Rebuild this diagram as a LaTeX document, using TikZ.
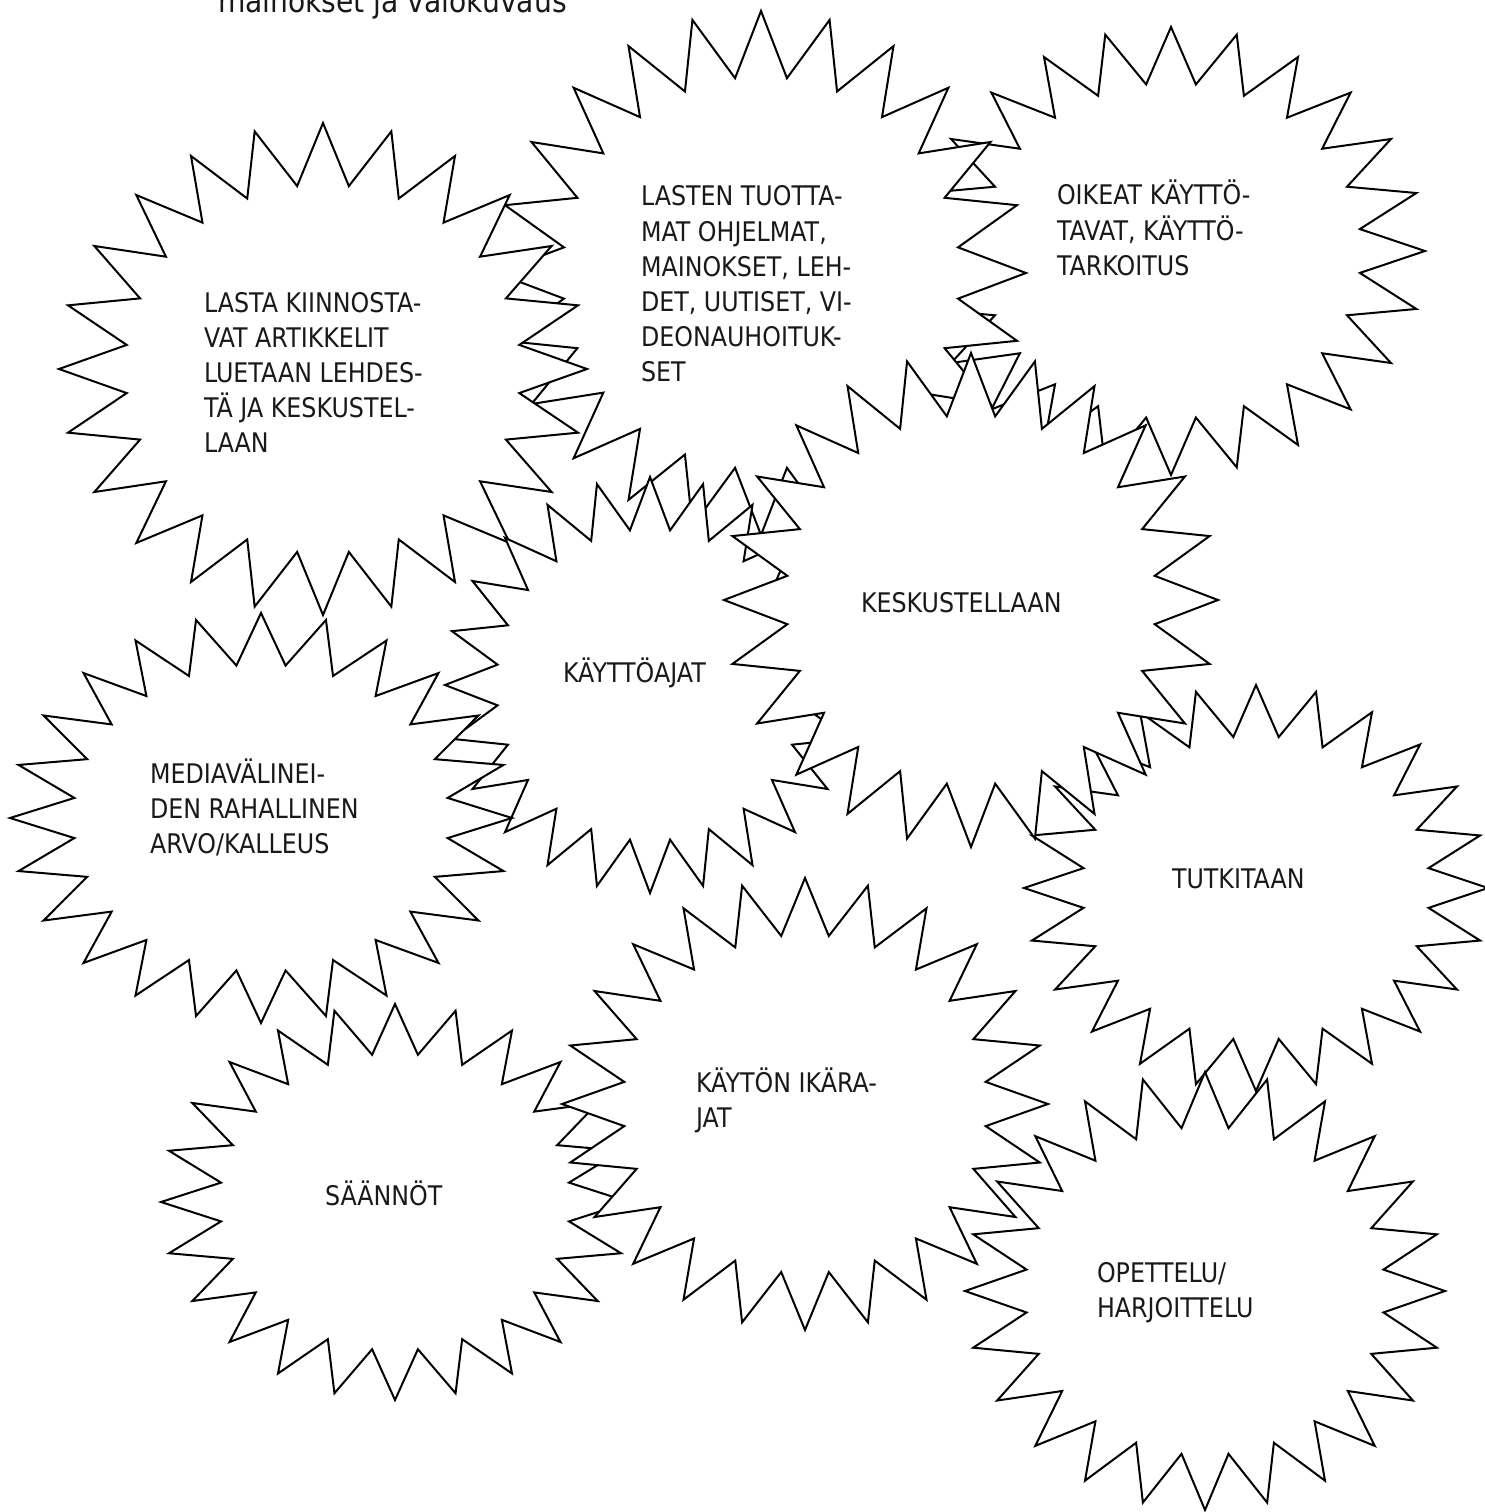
\documentclass[tikz,border=0pt]{standalone}
\usepackage{fontspec}
\setmainfont{DejaVu Sans}[FakeStretch=0.88]
\newcommand\lblfont{\fontsize{27bp}{35bp}\selectfont}
\newcommand\topfont{\fontsize{32bp}{38bp}\selectfont}
\newcommand\txtlines[1]{\begin{tabular}[t]{@{}l@{}}#1\end{tabular}}
% 24-point explosion: centre (#1,#2), outer radii #3 x #4, inner radii 0.75 of them
\newcommand\starburst[4]{%
  \filldraw[burst] plot[samples at={0,...,47}, variable=\k]
    ({#1+(0.875+0.125*cos(180*\k))*#3*cos(90+7.5*\k)},
     {#2-(0.875+0.125*cos(180*\k))*#4*sin(90+7.5*\k)}) -- cycle;}
\begin{document}
\begin{tikzpicture}[x=1bp,y=-1bp,
  burst/.style={draw=black, fill=white, line width=2bp, line join=miter},
  lbl/.style={anchor=base west, inner sep=0pt, outer sep=0pt, font=\lblfont, text=black!90}]
\useasboundingbox (0,0) rectangle (1485,1512);
\clip (0,0) rectangle (1485,1512);
\fill[white] (0,0) rectangle (1485,1512);

\node[lbl, font=\topfont] (toptext) at (218,13) {mainokset ja valokuvaus};

\starburst{1171}{251}{254}{224}
\node[lbl] (oikeat) at (1057,205) {\txtlines{OIKEAT KÄYTTÖ-\\TAVAT, KÄYTTÖ-\\TARKOITUS}};

\starburst{761}{273}{265}{262}
\node[lbl] (lasten) at (641,206) {\txtlines{LASTEN TUOTTA-\\MAT OHJELMAT,\\MAINOKSET, LEH-\\DET, UUTISET, VI-\\DEONAUHOITUK-\\SET}};

\starburst{323}{369}{264}{246}
\node[lbl] (lasta) at (204,312) {\txtlines{LASTA KIINNOSTA-\\VAT ARTIKKELIT\\LUETAAN LEHDES-\\TÄ JA KESKUSTEL-\\LAAN}};

\starburst{650}{685}{205}{208}
\node[lbl] (kayttoajat) at (563,682) {KÄYTTÖAJAT};

\starburst{261}{818}{251}{205}
\node[lbl] (media) at (150,783) {\txtlines{MEDIAVÄLINEI-\\DEN RAHALLINEN\\ARVO/KALLEUS}};

\starburst{1256}{888}{232}{203}
\node[lbl] (tutkitaan) at (1172,888) {TUTKITAAN};

\starburst{971}{600}{247}{247}
\node[lbl] (keskustellaan) at (861,612) {KESKUSTELLAAN};

\starburst{395}{1202}{234}{198}
\node[lbl] (saannot) at (325,1205) {SÄÄNNÖT};

\starburst{805}{1104}{243}{226}
\node[lbl] (ikarajat) at (696,1092) {\txtlines{KÄYTÖN IKÄRA-\\JAT}};

\starburst{1205}{1291}{240}{219}
\node[lbl] (opettelu) at (1097,1282) {\txtlines{OPETTELU/\\HARJOITTELU}};
\end{tikzpicture}
\end{document}
